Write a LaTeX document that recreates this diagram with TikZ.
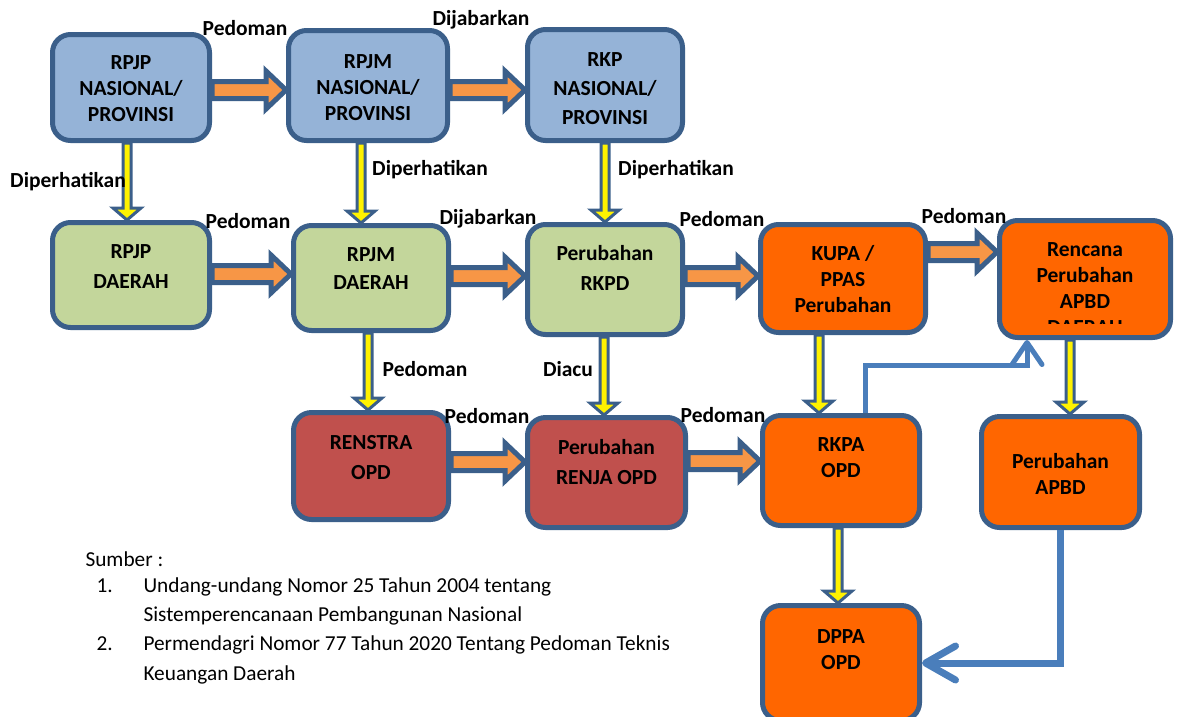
\documentclass[tikz,border=0pt]{standalone}
\usepackage{fontspec}
\setmainfont{Carlito}
\usepackage{tikz}
\usetikzlibrary{calc,arrows.meta,positioning}
\definecolor{boxline}{HTML}{3B5F8A}
\definecolor{nasblue}{HTML}{95B3D7}
\definecolor{daegreen}{HTML}{C3D69B}
\definecolor{opdred}{HTML}{C0504D}
\definecolor{apbdorange}{HTML}{FF6600}
\definecolor{arrorange}{HTML}{F79646}
\definecolor{linkblue}{HTML}{4A7EBB}
% block arrows: source, target, height of the shaft / x of the shaft
\newcommand{\harr}[3]{\draw[harrow] let \p1=(#1.east), \p2=(#2.west), \p3=(0,#3) in
	(\x1,\y3+8.5pt) -- (\x2-20pt,\y3+8.5pt) -- (\x2-20pt,\y3+19pt) -- (\x2,\y3)
	-- (\x2-20pt,\y3-19pt) -- (\x2-20pt,\y3-8.5pt) -- (\x1,\y3-8.5pt) -- cycle;}
\newcommand{\varr}[3]{\draw[varrow] let \p1=(#1.south), \p2=(#2.north), \p3=(#3,0) in
	(\x3-4pt,\y1) -- (\x3-4pt,\y2+12pt) -- (\x3-14pt,\y2+12pt) -- (\x3,\y2)
	-- (\x3+14pt,\y2+12pt) -- (\x3+4pt,\y2+12pt) -- (\x3+4pt,\y1) -- cycle;}

\begin{document}
\begin{tikzpicture}[x=1pt,y=-1pt,
	box/.style={draw=boxline,line width=5pt,rounded corners=18pt,inner sep=0pt,fill=#1},
	lbl/.style={align=center,font=\bfseries\fontsize{21.5}{#1}\selectfont},
	lbl/.default=26,
	tag/.style={anchor=base,font=\bfseries\fontsize{21.5}{24}\selectfont},
	src/.style={anchor=base west,font=\fontsize{21.3}{24}\selectfont},
	harrow/.style={draw=boxline,line width=5pt,fill=arrorange},
	varrow/.style={draw=boxline,line width=3pt,fill=yellow},
	link/.style={draw=linkblue}]
	\path[use as bounding box,clip] (0,0) rectangle (1177,716);
	
	% nasional / provinsi
	\node[box=nasblue,minimum width=157pt,minimum height=106pt] (rpjpn) at (131,87.5) {};
	\node[box=nasblue,minimum width=159pt,minimum height=110pt] (rpjmn) at (368,85.5) {};
	\node[box=nasblue,minimum width=155pt,minimum height=111pt] (rkpn) at (605,85) {};
	\node[lbl] (rpjpn-t) at (131,88.5) {RPJP\\NASIONAL/\\PROVINSI};
	\node[lbl] (rpjmn-t) at (368,87.5) {RPJM\\NASIONAL/\\PROVINSI};
	\node[lbl=29] (rkpn-t) at (605,89) {RKP\\NASIONAL/\\PROVINSI};
	
	% daerah
	\node[box=daegreen,minimum width=157pt,minimum height=105pt] (rpjpd) at (131,275) {};
	\node[box=daegreen,minimum width=155pt,minimum height=105pt] (rpjmd) at (371,278) {};
	\node[box=daegreen,minimum width=155pt,minimum height=110pt] (rkpd) at (605,279.5) {};
	\node[lbl=30] (rpjpd-t) at (131,267) {RPJP\\DAERAH};
	\node[lbl=28] (rpjmd-t) at (371,269) {RPJM\\DAERAH};
	\node[lbl=30] (rkpd-t) at (605,268) {Perubahan\\RKPD};
	
	% opd
	\node[box=opdred,minimum width=155pt,minimum height=107pt] (renstra) at (371,466) {};
	\node[box=opdred,minimum width=158pt,minimum height=110pt] (renja) at (606.5,472.5) {};
	\node[lbl=30] (renstra-t) at (371,458) {RENSTRA\\OPD};
	\node[lbl=30] (renja-t) at (606.5,462) {Perubahan\\RENJA OPD};
	
	% anggaran
	\node[box=apbdorange,minimum width=165pt,minimum height=108pt] (kupa) at (843,278.5) {};
	\node[box=apbdorange,minimum width=171pt,minimum height=117pt] (rapbd) at (1085,279) {};
	\node[box=apbdorange,minimum width=157pt,minimum height=110pt] (rkpa) at (841,470.5) {};
	\node[box=apbdorange,minimum width=158pt,minimum height=111pt] (papbd) at (1060.5,472) {};
	\node[box=apbdorange,minimum width=157pt,minimum height=115pt] (dppa) at (841,663) {};
	\node[lbl] (kupa-t) at (843,279.5) {KUPA /\\PPAS\\Perubahan};
	\node[lbl] (rapbd-t) at (1085,276) {Rencana\\Perubahan\\APBD};
	\begin{scope}
		\clip (1000,300) rectangle (1170,323.5);
		\node[lbl] (rapbd-cut) at (1085,328) {DAERAH};
	\end{scope}
	\node[lbl] (rkpa-t) at (841,458) {RKPA\\OPD};
	\node[lbl] (papbd-t) at (1060.5,474) {Perubahan\\APBD};
	\node[lbl] (dppa-t) at (841,650) {DPPA\\OPD};
	
	% block arrows
	\harr{rpjpn}{rpjmn}{90}
	\harr{rpjmn}{rkpn}{90}
	\harr{rpjpd}{rpjmd}{274}
	\harr{rpjmd}{rkpd}{276}
	\harr{rkpd}{kupa}{276}
	\harr{kupa}{rapbd}{252}
	\harr{renstra}{renja}{462}
	\harr{renja}{rkpa}{461}
	\varr{rpjpn}{rpjpd}{127}
	\varr{rpjmn}{rpjmd}{361}
	\varr{rkpn}{rkpd}{605}
	\varr{rpjmd}{renstra}{368}
	\varr{rkpd}{renja}{604}
	\varr{kupa}{rkpa}{819}
	\varr{rapbd}{papbd}{1070}
	\varr{rkpa}{dppa}{838}
	
	% blue links
	\coordinate (bend) at (1027,365);
	\draw[link,line width=5pt,-{Straight Barb[length=22pt,width=30pt,round]}]
		([xshift=24pt]rkpa.north) |- (bend) -- ([xshift=-58pt]rapbd.south);
	\draw[link,line width=7pt,-{Straight Barb[length=30pt,width=34pt,round]}]
		(papbd.south) |- (dppa.east);
	
	% labels
	\node[tag] (t1) at (245,35) {Pedoman};
	\node[tag] (t2) at (481,25) {Dijabarkan};
	\node[tag] (t3) at (68,187) {Diperhatikan};
	\node[tag] (t4) at (430,175) {Diperhatikan};
	\node[tag] (t5) at (676,175) {Diperhatikan};
	\node[tag] (t6) at (248,228) {Pedoman};
	\node[tag] (t7) at (488,224) {Dijabarkan};
	\node[tag] (t8) at (722,226) {Pedoman};
	\node[tag] (t9) at (964,223) {Pedoman};
	\node[tag] (t10) at (425,376) {Pedoman};
	\node[tag] (t11) at (568,376) {Diacu};
	\node[tag] (t12) at (487,423) {Pedoman};
	\node[tag] (t13) at (723,422) {Pedoman};
	
	% sumber
	\node[src] (s0) at (82,566) {Sumber :};
	\node[src] (s1n) at (93,592) {1.};
	\node[src] (s1a) at (140,592) {Undang-undang Nomor 25 Tahun 2004 tentang};
	\node[src] (s1b) at (140,621) {Sistemperencanaan Pembangunan Nasional};
	\node[src] (s2n) at (93,650) {2.};
	\node[src] (s2a) at (140,650) {Permendagri Nomor 77 Tahun 2020 Tentang Pedoman Teknis};
	\node[src] (s2b) at (140,680) {Keuangan Daerah};
\end{tikzpicture}
\end{document}
